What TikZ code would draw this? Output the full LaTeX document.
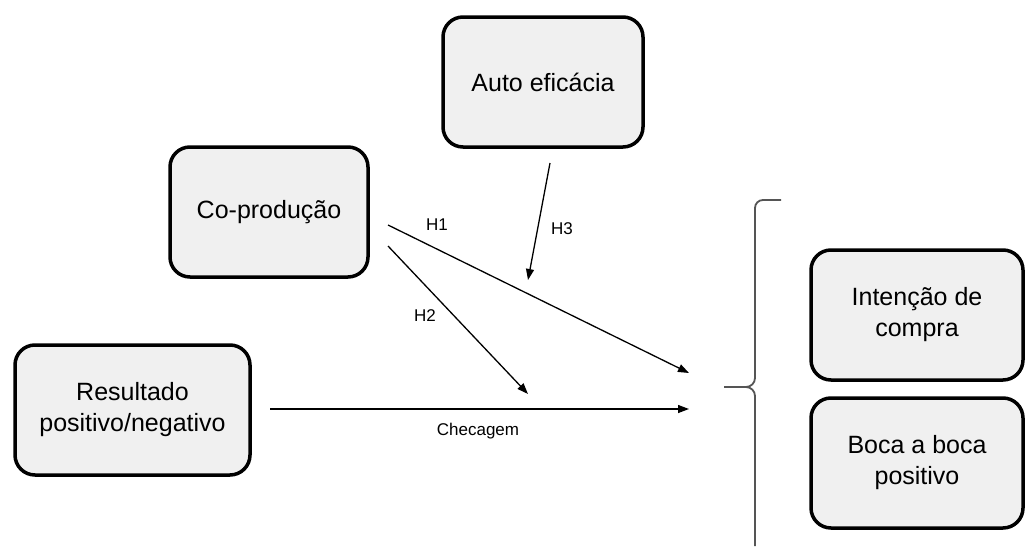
\documentclass[tikz,border=0pt]{standalone}
\usepackage{fontspec}
\setmainfont{Liberation Sans}
\usetikzlibrary{arrows.meta}
\definecolor{boxfill}{HTML}{F0F0F0}
\definecolor{bracegray}{HTML}{555555}
\tikzset{
  varbox/.style={draw=black, line width=3.5pt, fill=boxfill, rounded corners=20pt,
    minimum width=#1, minimum height=130pt, inner sep=0pt, align=center,
    font=\fontsize{25}{31}\selectfont},
  link/.style={line width=1.3pt, -{Triangle[length=11pt,width=8pt]}},
  hlabel/.style={font=\fontsize{17}{19}\selectfont, inner sep=0pt},
  bracestyle/.style={draw=bracegray, line width=1.8pt}
}
\begin{document}
\begin{tikzpicture}[x=1pt,y=-1pt]
\useasboundingbox (0,0) rectangle (1025,546);
\node[varbox=200pt] (auto) at (543,82) {Auto eficácia};
\node[varbox=198pt] (co) at (269,212) {Co-produção};
\node[varbox=235pt] (res) at (132.5,410) {Resultado\\positivo/negativo};
\node[varbox=212pt] (int) at (917,315) {Intenção de\\compra};
\node[varbox=212pt] (boca) at (917,463) {Boca a boca\\positivo};

\coordinate (h1s) at (388,225);
\coordinate (h1e) at (689,373);
\coordinate (h2s) at (388,246);
\coordinate (h2e) at (528,394);
\coordinate (h3s) at (550,163);
\coordinate (h3e) at (528,280);
\coordinate (cs) at (270,409);
\coordinate (ce) at (689,409);

\draw[link] (h1s) -- (h1e);
\draw[link] (h2s) -- (h2e);
\draw[link] (h3s) -- (h3e);
\draw[link] (cs) -- (ce);

\node[hlabel] (lh1) at (437,225) {H1};
\node[hlabel] (lh2) at (425,316) {H2};
\node[hlabel] (lh3) at (562,229) {H3};
\node[hlabel] (lch) at (478,431) {Checagem};

\coordinate (bt) at (781,200);
\coordinate (bm) at (724,387);
\coordinate (bb) at (755,546);
\draw[bracestyle] (bt) -- (763,200) to[out=180,in=90] (755,208) -- (755,378)
  to[out=-90,in=0] (746,387) -- (bm);
\draw[bracestyle] (bb) -- (755,396) to[out=90,in=0] (746,387);
\end{tikzpicture}
\end{document}
